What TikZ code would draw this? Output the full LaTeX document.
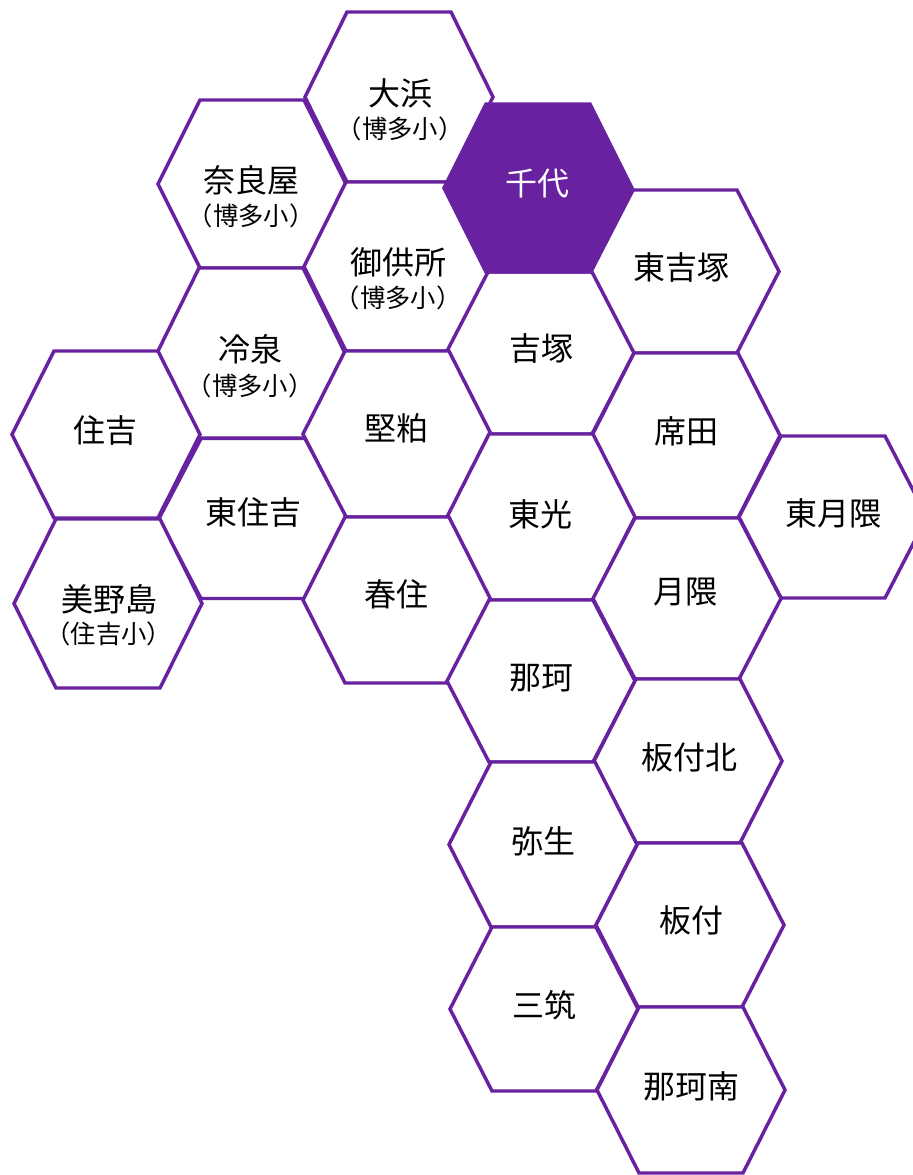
\documentclass[tikz,border=0pt]{standalone}
\usepackage{fontspec}
\setmainfont{Noto Sans CJK JP}

\definecolor{hexpurple}{RGB}{104,34,160}

% one hexagon cell: centre (#1,#2), half height #3
\newcommand{\Hex}[3]{%
  \draw[Hex] (#1,#2) +(-94,0) -- +(-52,-#3) -- +(52,-#3)
    -- +(94,0) -- +(52,#3) -- +(-52,#3) -- cycle;}

\begin{document}
\begin{tikzpicture}[x=0.75pt,y=-0.75pt]

  \useasboundingbox (0,0) rectangle (913,1175);
  \node[anchor=center,inner sep=0pt] (X) at (0,0) {};

  % node styles
  \tikzstyle{Hex}=[draw=hexpurple,fill=white,line width=2.6pt,line join=miter]
  \tikzstyle{Label}=[font=\fontsize{24}{24}\selectfont,inner sep=0pt,anchor=center]
  \tikzstyle{Sub}=[font=\fontsize{19}{19}\selectfont,inner sep=0pt,anchor=center]

  % cells
  \Hex{399}{97}{85}
  \Hex{252}{184}{84}
  \Hex{398}{266.5}{84.5}
  \Hex{685}{271.5}{81.5}
  \Hex{540}{353}{81}
  \Hex{251}{353}{85}
  \Hex{106}{434.5}{83.5}
  \Hex{397}{434}{83}
  \Hex{686}{435.5}{82.5}
  \Hex{253}{518.5}{80}
  \Hex{541}{517}{83}
  \Hex{833}{517}{81}
  \Hex{108}{603.5}{84.5}
  \Hex{397}{600}{83}
  \Hex{687}{598.5}{80.5}
  \Hex{541}{681}{81}
  \Hex{688}{761}{82}
  \Hex{543}{844.5}{82.5}
  \Hex{690}{925}{82}
  \Hex{544}{1009}{82}
  \Hex{691}{1090}{83}
  \begin{scope}[Hex/.append style={fill=hexpurple}]
    \Hex{538}{188}{84}
  \end{scope}

  % names
  \draw (X) node[Label] (A1)  at +(400,93)   {大浜};
  \draw (X) node[Sub]   (A1s) at +(400,129)  {（博多小）};
  \draw (X) node[Label] (A2)  at +(251,180)  {奈良屋};
  \draw (X) node[Sub]   (A2s) at +(251,216)  {（博多小）};
  \draw (X) node[Label,text=white] (A3) at +(537,184) {千代};
  \draw (X) node[Label] (A4)  at +(398,262)  {御供所};
  \draw (X) node[Sub]   (A4s) at +(398,298)  {（博多小）};
  \draw (X) node[Label] (A5)  at +(681,267)  {東吉塚};
  \draw (X) node[Label] (A6)  at +(541,348)  {吉塚};
  \draw (X) node[Label] (A7)  at +(250,349)  {冷泉};
  \draw (X) node[Sub]   (A7s) at +(250,386)  {（博多小）};
  \draw (X) node[Label] (A8)  at +(105,430)  {住吉};
  \draw (X) node[Label] (A9)  at +(396,428)  {堅粕};
  \draw (X) node[Label] (A10) at +(686,431)  {席田};
  \draw (X) node[Label] (A11) at +(253,512)  {東住吉};
  \draw (X) node[Label] (A12) at +(540,514)  {東光};
  \draw (X) node[Label] (A13) at +(833,513)  {東月隈};
  \draw (X) node[Label] (A14) at +(109,599)  {美野島};
  \draw (X) node[Sub]   (A14s) at +(109,634) {（住吉小）};
  \draw (X) node[Label] (A15) at +(396,594)  {春住};
  \draw (X) node[Label] (A16) at +(685,592)  {月隈};
  \draw (X) node[Label] (A17) at +(541,678)  {那珂};
  \draw (X) node[Label] (A18) at +(689,757)  {板付北};
  \draw (X) node[Label] (A19) at +(543,841)  {弥生};
  \draw (X) node[Label] (A20) at +(691,920)  {板付};
  \draw (X) node[Label] (A21) at +(544,1005) {三筑};
  \draw (X) node[Label] (A22) at +(691,1086) {那珂南};

\end{tikzpicture}
\end{document}
